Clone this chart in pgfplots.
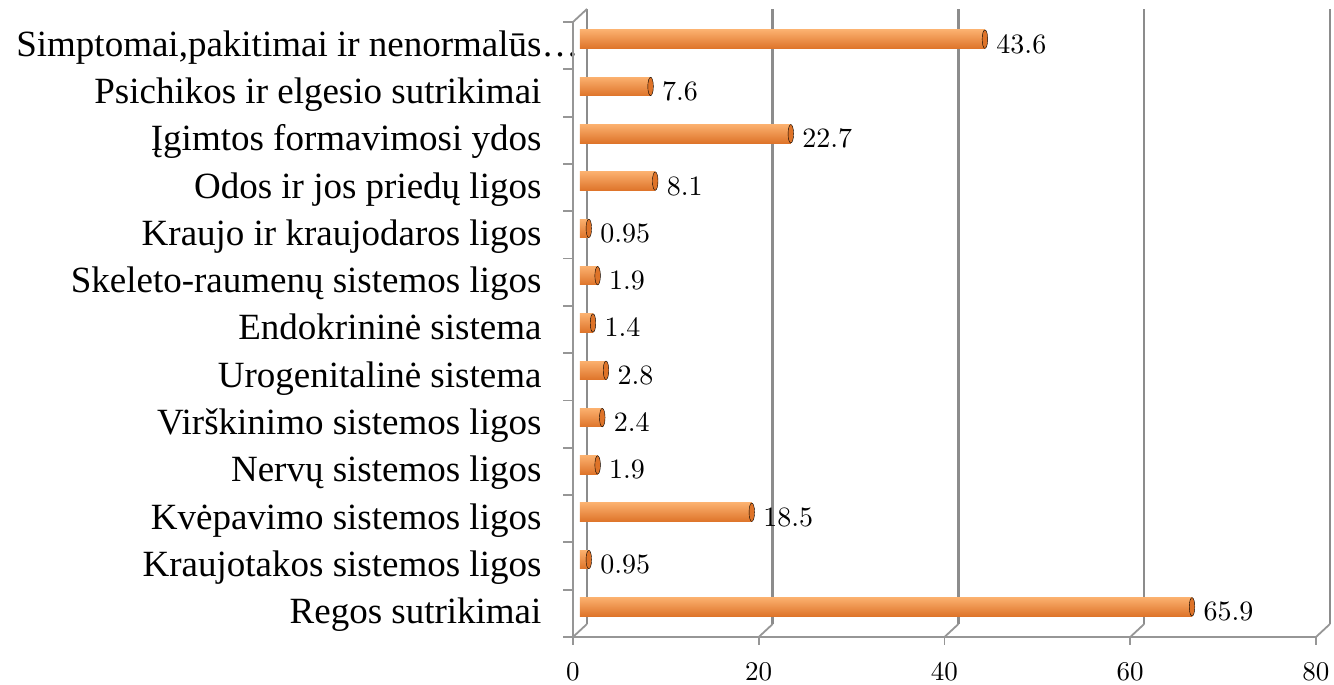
\documentclass[border=0pt]{standalone}
\usepackage{fontspec}
\setmainfont{Liberation Serif}
\newfontfamily\numfont{lmroman10-regular.otf}
\usepackage{pgfplots}
\pgfplotsset{compat=1.18}
\definecolor{barmid}{RGB}{248,146,58}
\definecolor{bartop}{RGB}{251,176,110}
\definecolor{barbot}{RGB}{222,116,42}
\definecolor{barcap}{RGB}{222,115,40}
\definecolor{gridc}{RGB}{140,140,140}
\definecolor{axc}{RGB}{150,150,150}
\tikzset{front/.style={xshift=-7pt,yshift=-6.5pt}, back/.style={xshift=7pt,yshift=6.5pt}}
\newcommand\obar[2]{\addplot[xbar, bar shift=0pt, bar width=18.5pt, draw=none, top color=bartop, middle color=barmid, bottom color=barbot] coordinates {(#1,#2)};}
\begin{document}
\begin{tikzpicture}
\path[use as bounding box] (0,0) rectangle (1334pt,685pt);
\begin{axis}[
  at={(580pt,54.5pt)}, anchor=south west,
  scale only axis, width=743pt, height=615pt,
  xmin=0, xmax=80, ymin=-0.5, ymax=12.5,
  clip=false,
  /pgf/number format/assume math mode=true,
  axis line style={draw=none},
  major tick style={draw=none},
  xtick={0,20,40,60,80},
  ytick={0,...,12},
  yticklabels={Regos sutrikimai, Kraujotakos sistemos ligos, Kvėpavimo sistemos ligos, Nervų sistemos ligos, Virškinimo sistemos ligos, Urogenitalinė sistema, Endokrininė sistema, Skeleto-raumenų sistemos ligos, Kraujo ir kraujodaros ligos, Odos ir jos priedų ligos, Įgimtos formavimosi ydos, Psichikos ir elgesio sutrikimai, {Simptomai,pakitimai ir nenormalūs\rlap{…}}},
  xticklabel style={font=\fontsize{27}{30}\selectfont\numfont, anchor=base, xshift=-7pt, yshift=-50pt},
  yticklabel style={font=\fontsize{37}{40}\selectfont, anchor=base east, xshift=-35pt, yshift=-17pt},
]
% back grid and floor
\pgfplotsinvokeforeach{0,20,40,60,80}{
  \draw[gridc, line width=2.5pt, back] (axis cs:#1,-0.5) -- (axis cs:#1,12.5);
  \draw[axc, line width=1.8pt] (axis cs:#1,-0.5) ++(-7pt,-6.5pt) -- ++(14pt,13pt);
  \draw[axc, line width=1.8pt] (axis cs:#1,-0.5) ++(-7pt,-6.5pt) -- ++(0pt,-8pt);
}
\draw[axc, line width=1.8pt, front] (axis cs:0,-0.5) -- (axis cs:80,-0.5);
\draw[axc, line width=1.8pt, front] (axis cs:0,-0.5) -- (axis cs:0,12.5);
\draw[axc, line width=1.8pt] (axis cs:0,12.5) ++(-7pt,-6.5pt) -- ++(14pt,13pt);
\pgfplotsinvokeforeach{-0.5,0.5,1.5,2.5,3.5,4.5,5.5,6.5,7.5,8.5,9.5,10.5,11.5,12.5}{
  \draw[axc, line width=1.8pt] (axis cs:0,#1) ++(-7pt,-6.5pt) -- ++(-10pt,0pt);
}
% bars (one plot each so that each bar is shaded on its own)
\obar{65.9}{0}
\obar{0.95}{1}
\obar{18.5}{2}
\obar{1.9}{3}
\obar{2.4}{4}
\obar{2.8}{5}
\obar{1.4}{6}
\obar{1.9}{7}
\obar{0.95}{8}
\obar{8.1}{9}
\obar{22.7}{10}
\obar{7.6}{11}
\obar{43.6}{12}
% end caps and value labels
\addplot[only marks, mark=*, mark size=9.25pt, mark options={xscale=0.3, fill=barcap, draw=none},
  nodes near coords, point meta=x,
  nodes near coords style={font=\fontsize{28}{30}\selectfont\numfont, anchor=base west, xshift=8pt, yshift=-14pt, text=black, fill=none, draw=none}]
coordinates {(65.9,0) (0.95,1) (18.5,2) (1.9,3) (2.4,4) (2.8,5) (1.4,6) (1.9,7) (0.95,8) (8.1,9) (22.7,10) (7.6,11) (43.6,12)};
\end{axis}
\end{tikzpicture}
\end{document}
